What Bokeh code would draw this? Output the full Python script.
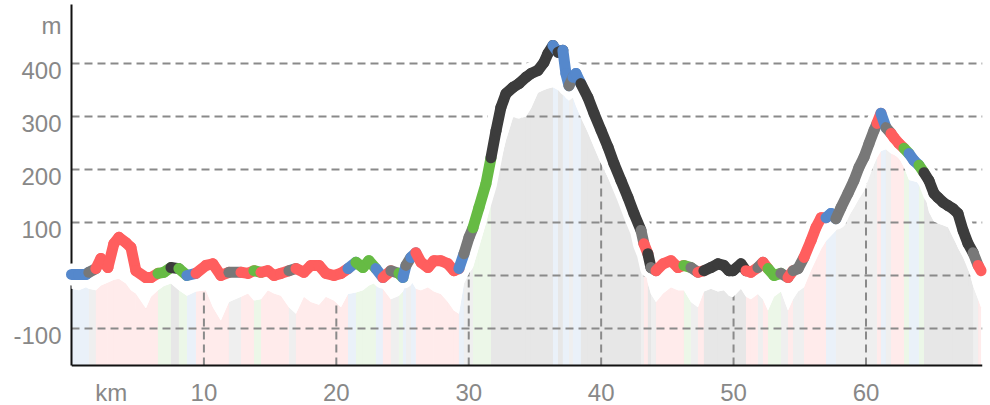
import numpy as np
from bokeh.plotting import figure
from bokeh.models import FixedTicker, Range1d
from bokeh.embed import file_html
from bokeh.resources import INLINE

# distance along route (km)
km = [0.0, 0.56, 1.09, 1.31, 1.84, 2.22, 2.75, 3.20, 3.58, 4.11,
      4.49, 4.86, 5.62, 6.00, 6.53, 6.98, 7.51, 8.11, 8.72, 9.40,
      10.15, 10.68, 11.28, 11.89, 12.80, 13.33, 13.78, 14.31, 14.83, 15.29,
      15.82, 16.42, 16.95, 17.55, 18.08, 18.69, 19.21, 19.82, 20.35, 20.88,
      21.48, 22.01, 22.46, 22.99, 23.52, 24.12, 24.73, 25.03, 25.26, 25.63,
      26.01, 26.39, 26.92, 27.37, 27.90, 28.43, 28.88, 29.26, 29.64, 30.02,
      30.32, 30.77, 31.30, 31.68, 32.06, 32.43, 32.81, 33.34, 33.79, 34.32,
      34.70, 35.23, 35.68, 35.98, 36.36, 36.74, 37.11, 37.34, 37.57, 37.87,
      38.10, 38.47, 39.00, 39.46, 39.99, 40.52, 40.97, 41.50, 42.03, 42.48,
      43.01, 43.23, 43.53, 43.76, 44.14, 44.67, 45.27, 45.80, 46.25, 46.78,
      47.31, 47.76, 48.29, 48.82, 49.27, 49.65, 49.95, 50.56, 50.94, 51.31,
      51.84, 52.22, 52.60, 53.05, 53.58, 54.11, 54.49, 54.87, 55.32, 55.85,
      56.23, 56.61, 56.98, 57.36, 57.73, 58.11, 58.64, 59.09, 59.47, 59.85,
      60.23, 60.61, 60.83, 61.13, 61.51, 61.89, 62.12, 62.49, 62.87, 63.25,
      63.62, 64.00, 64.38, 64.76, 65.13, 65.44, 65.82, 66.20, 66.57, 66.95,
      67.33, 67.71, 68.09, 68.47, 68.69]

# elevation (m)
elev = [2, 2, 2, 6, 13, 32, 15, 60, 72, 62,
        53, 9, -4, -4, 4, 6, 15, 13, 0, 4,
        19, 22, 0, 6, 6, 4, 9, 6, 9, 0,
        4, 9, 13, 6, 19, 19, 4, 0, 4, 13,
        25, 15, 28, 13, -4, 9, 4, -4, 19, 34,
        43, 25, 15, 28, 28, 22, 9, 13, 41, 72,
        90, 128, 173, 222, 273, 317, 343, 355, 362, 374,
        381, 387, 402, 419, 434, 421, 425, 381, 358, 374,
        381, 362, 336, 306, 274, 242, 211, 179, 147, 117,
        85, 60, 41, 15, 9, 22, 28, 15, 19, 15,
        6, 9, 15, 22, 19, 9, 9, 22, 9, 6,
        15, 25, 13, 0, 4, -4, 9, 13, 34, 66,
        91, 109, 109, 117, 107, 128, 155, 179, 204, 223,
        249, 274, 287, 306, 279, 268, 260, 249, 240, 230,
        217, 208, 194, 179, 155, 147, 138, 132, 126, 117,
        85, 60, 43, 19, 9]

# shadow profile (m)
shadow = [-25, -28, -22, -25, -28, -19, -13, -8, -6, -15,
          -28, -34, -62, -40, -28, -20, -15, -28, -38, -30,
          -28, -60, -85, -50, -40, -34, -47, -45, -28, -34,
          -38, -60, -72, -40, -50, -55, -40, -47, -60, -35,
          -32, -28, -19, -13, -25, -45, -38, -30, -15, -9,
          -25, -28, -22, -30, -35, -50, -66, -72, -15, 4,
          15, 53, 98, 140, 179, 217, 255, 298, 296, 300,
          315, 345, 350, 353, 355, 350, 343, 335, 330, 336,
          320, 298, 270, 242, 211, 185, 160, 135, 109, 80,
          53, 30, -15, -35, -50, -34, -22, -28, -28, -50,
          -60, -30, -25, -30, -28, -38, -41, -25, -40, -45,
          -35, -45, -66, -40, -30, -66, -45, -30, -22, 10,
          30, 50, 65, 75, 85, 98, 110, 128, 145, 160,
          185, 210, 222, 235, 238, 230, 228, 222, 204, 180,
          178, 175, 160, 120, 102, 98, 95, 91, 72, 53,
          35, 15, -20, -45, -60]

# surface class of each stretch (starting at that point)
surface = list("bbbyrrrrrr" "rrrrggkgbr" "rrryrrgrrr" "ryrrrrrrrb" "gggbrygbyb"
               "rrrrrrrbyy" "gggkkkkkkk" "kkkkbkbbyb" "bkkkkkkkkk" "yrkyrrrrgy"
               "rkkkkkkkrr" "yrggyryyrr" "rrbbyyyyyy" "yyrbyrrrgb" "bgkkkkkkkk"
               "kkyry")

PALETTE = {"r": "#ff5e5e", "g": "#66bb44", "b": "#5588cc", "k": "#3c3c3c", "y": "#787878"}

GRID_M = [-100, 0, 100, 200, 300, 400]
Y_LABELS = [-100, 100, 200, 300, 400]
X_TICKS = [10, 20, 30, 40, 50, 60]
UNIT_X = ("km", 3)
UNIT_Y = ("m", 472)
Y_BOTTOM = -170
LABEL_SHIFT = 13

n = len(km)
seg_colors = [PALETTE[s] for s in surface[:n - 1]]

p = figure(width=990, height=405, x_range=Range1d(0, 68.8), y_range=Range1d(-245.3, 511.3),
           output_backend="svg", toolbar_location=None,
           min_border_left=71, min_border_right=8, min_border_top=4, min_border_bottom=0)
p.outline_line_color = None
p.background_fill_color = "white"
p.border_fill_color = "white"

GRID_COLOR = "#8a8a8a"
p.xgrid.visible = False
p.ygrid.ticker = FixedTicker(ticks=GRID_M)
p.ygrid.grid_line_color = GRID_COLOR
p.ygrid.grid_line_width = 2
p.ygrid.grid_line_dash = "8 5"

# shaded shadow strips
xs = [[km[i], km[i], km[i + 1], km[i + 1]] for i in range(n - 1)]
ys = [[Y_BOTTOM, shadow[i], shadow[i + 1], Y_BOTTOM] for i in range(n - 1)]
rs = p.patches(xs, ys, fill_color=seg_colors, fill_alpha=0.12, line_color=None)
rs.level = "image"

# vertical grid lines up to the profile
tops = np.interp(X_TICKS, km, elev)
rv = p.segment(x0=X_TICKS, y0=[Y_BOTTOM] * len(X_TICKS), x1=X_TICKS, y1=tops,
               line_color=GRID_COLOR, line_width=2, line_dash="8 5")
rv.level = "underlay"

# white band between shadow and profile
rb = p.varea(x=km, y1=shadow, y2=elev, fill_color="white")
rb.level = "overlay"

# white halo and coloured profile
rh = p.line(km, elev, line_color="white", line_width=22, line_join="round", line_cap="round")
rh.level = "overlay"
rl = p.segment(x0=km[:-1], y0=elev[:-1], x1=km[1:], y1=elev[1:],
               line_color=seg_colors, line_width=11, line_cap="round")
rl.level = "overlay"

FONT = "Liberation Sans"
LABEL_COLOR = "#888888"

xa = p.xaxis[0]
xa.fixed_location = Y_BOTTOM
xa.ticker = FixedTicker(ticks=[UNIT_X[1]] + X_TICKS)
xa.major_label_overrides = {UNIT_X[1]: UNIT_X[0]}
xa.major_label_standoff = 13

ya = p.yaxis[0]
ya.ticker = FixedTicker(ticks=[v - LABEL_SHIFT for v in Y_LABELS] + [UNIT_Y[1]])
ov = {v - LABEL_SHIFT: str(v) for v in Y_LABELS}
ov[UNIT_Y[1]] = UNIT_Y[0]
ya.major_label_overrides = ov
ya.major_label_standoff = 10
ya.bounds = (Y_BOTTOM, 512)

for ax in (xa, ya):
    ax.axis_line_color = "#111111"
    ax.axis_line_width = 2
    ax.major_tick_in = 0
    ax.major_tick_out = 0
    ax.minor_tick_in = 0
    ax.minor_tick_out = 0
    ax.major_label_text_font = FONT
    ax.major_label_text_font_size = "24px"
    ax.major_label_text_color = LABEL_COLOR

open("out.html", "w").write(file_html(p, INLINE))
